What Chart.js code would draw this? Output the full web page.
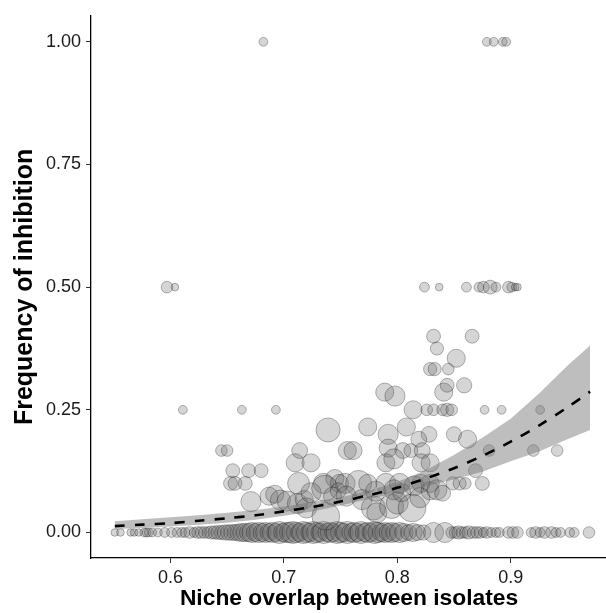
<!DOCTYPE html>
<html lang="en">
<head>
<meta charset="UTF-8">
<title>Niche overlap vs frequency of inhibition</title>
<script src="https://cdn.jsdelivr.net/npm/chart.js@4"></script>
<style>
  * { margin: 0; padding: 0; box-sizing: border-box; }
  body { background: #fff; width: 606px; height: 613px; overflow: hidden; }
  /* the panel runs off the right edge of the figure, as in the original */
  #wrap { position: relative; width: 622px; height: 613px; }
</style>
</head>
<body>
<div id="wrap"><canvas id="chart"></canvas></div>
<script>
// ── Axis ticks ────────────────────────────────────────────────────────────────
const xTicks = [0.6, 0.7, 0.8, 0.9];
const yTicks = [0, 0.25, 0.5, 0.75, 1];

// ── Pairs with no inhibition (freq = 0) ───────────────────────────────────────
const zeroOverlap = [
  0.551, 0.556, 0.565, 0.568, 0.572, 0.577, 0.579, 0.581, 0.584, 0.589, 0.595, 0.601, 0.606,
  0.610, 0.613, 0.617, 0.621, 0.624, 0.627, 0.630, 0.633, 0.636, 0.639, 0.642, 0.645, 0.648,
  0.651, 0.654, 0.657, 0.660, 0.663, 0.666, 0.669, 0.672, 0.675, 0.678, 0.681, 0.684, 0.687,
  0.690, 0.693, 0.696, 0.699, 0.702, 0.705, 0.708, 0.711, 0.714, 0.717, 0.720, 0.723, 0.726,
  0.729, 0.732, 0.735, 0.738, 0.741, 0.744, 0.747, 0.750, 0.753, 0.756, 0.759, 0.762, 0.765,
  0.768, 0.771, 0.774, 0.777, 0.780, 0.783, 0.786, 0.789, 0.792, 0.795, 0.798, 0.802, 0.806,
  0.810, 0.814, 0.818, 0.823, 0.832, 0.842, 0.848, 0.851, 0.854, 0.857, 0.860, 0.863, 0.867,
  0.870, 0.873, 0.876, 0.879, 0.883, 0.887, 0.890, 0.898, 0.902, 0.906, 0.918, 0.922, 0.926,
  0.930, 0.936, 0.940, 0.944, 0.952, 0.956, 0.969
];
const zeroN = [
  3, 3, 3, 3, 3, 4, 4, 4, 4, 4, 5, 5, 5,
  5, 5, 7, 5, 7, 7, 7, 7, 9, 9, 10, 10, 12,
  12, 13, 13, 15, 17, 17, 17, 21, 17, 21, 17, 21, 17,
  21, 17, 25, 17, 21, 21, 25, 21, 17, 25, 21, 17, 25,
  21, 17, 25, 17, 21, 17, 25, 21, 17, 25, 17, 21, 17,
  25, 17, 21, 17, 25, 21, 17, 21, 17, 21, 17, 21, 17,
  13, 17, 13, 12, 21, 21, 7, 7, 9, 7, 7, 9, 7,
  7, 7, 5, 7, 5, 5, 5, 7, 7, 7, 5, 7, 5,
  7, 7, 5, 5, 5, 5, 7
];

// ── Pairs with some inhibition ────────────────────────────────────────────────
const posOverlap = [
  0.682, 0.879, 0.885, 0.893, 0.896,
  0.597, 0.604, 0.824, 0.837, 0.861, 0.872, 0.876, 0.882, 0.887, 0.898, 0.901, 0.904, 0.906,
  0.832, 0.866, 0.835, 0.852, 0.829, 0.833, 0.845, 0.789, 0.798, 0.841, 0.844, 0.859,
  0.611, 0.663, 0.693, 0.814, 0.826, 0.832, 0.840, 0.844, 0.848, 0.877, 0.892, 0.926,
  0.739, 0.774, 0.792, 0.808, 0.828, 0.850, 0.862,
  0.645, 0.650, 0.714, 0.756, 0.761, 0.792, 0.805, 0.812, 0.819, 0.822, 0.881, 0.920, 0.941,
  0.710, 0.724, 0.790, 0.797, 0.821, 0.829,
  0.655, 0.669, 0.680, 0.869,
  0.653, 0.657, 0.666, 0.713, 0.735, 0.745, 0.749, 0.754, 0.766, 0.774, 0.790, 0.802, 0.815,
  0.821, 0.829, 0.849, 0.855, 0.860, 0.875,
  0.671, 0.687, 0.692, 0.697, 0.703, 0.712, 0.718, 0.720, 0.724, 0.737, 0.736, 0.743, 0.748,
  0.755, 0.769, 0.779, 0.781, 0.782, 0.795, 0.797, 0.800, 0.804, 0.813, 0.820, 0.829, 0.835, 0.840
];
const posFreq = [
  1, 1, 1, 1, 1,
  0.5, 0.5, 0.5, 0.5, 0.5, 0.5, 0.5, 0.5, 0.5, 0.5, 0.5, 0.5, 0.5,
  0.40, 0.40, 0.375, 0.355, 0.333, 0.333, 0.333, 0.286, 0.278, 0.286, 0.30, 0.30,
  0.25, 0.25, 0.25, 0.25, 0.25, 0.25, 0.25, 0.25, 0.25, 0.25, 0.25, 0.25,
  0.209, 0.215, 0.20, 0.215, 0.20, 0.20, 0.19,
  0.167, 0.167, 0.167, 0.167, 0.167, 0.172, 0.167, 0.167, 0.19, 0.167, 0.167, 0.167, 0.167,
  0.142, 0.142, 0.142, 0.15, 0.142, 0.142,
  0.126, 0.126, 0.126, 0.126,
  0.10, 0.10, 0.10, 0.10, 0.10, 0.11, 0.10, 0.10, 0.10, 0.10, 0.10, 0.10, 0.095,
  0.10, 0.10, 0.10, 0.10, 0.10, 0.10,
  0.063, 0.074, 0.078, 0.066, 0.064, 0.059, 0.067, 0.05, 0.081, 0.033, 0.09, 0.074, 0.085,
  0.074, 0.067, 0.05, 0.084, 0.04, 0.053, 0.087, 0.06, 0.081, 0.05, 0.071, 0.085, 0.087, 0.08
];
const posN = [
  4, 4, 4, 4, 4,
  7, 3, 5, 3, 5, 5, 7, 10, 5, 7, 5, 3, 3,
  10, 10, 9, 17, 9, 9, 7, 17, 21, 17, 10, 12,
  4, 4, 4, 17, 7, 7, 7, 9, 7, 4, 4, 4,
  30, 17, 21, 17, 13, 12, 17,
  7, 7, 13, 17, 17, 17, 13, 10, 13, 13, 7, 7, 7,
  17, 17, 17, 21, 17, 17,
  10, 10, 10, 10,
  10, 10, 10, 25, 21, 17, 17, 21, 35, 17, 21, 21, 21,
  17, 17, 9, 9, 7, 10,
  21, 17, 17, 21, 21, 21, 17, 21, 21, 40, 35, 17, 13,
  21, 21, 30, 21, 21, 30, 21, 25, 17, 40, 21, 17, 21, 13
];

// ── Logistic fit with confidence band ─────────────────────────────────────────
const fitX  = [0.551, 0.575, 0.6, 0.625, 0.65, 0.675, 0.7, 0.725, 0.75, 0.775, 0.8, 0.825, 0.85, 0.875, 0.9, 0.925, 0.95, 0.97];
const fitY  = [0.013, 0.016, 0.019, 0.024, 0.029, 0.035, 0.043, 0.052, 0.063, 0.076, 0.091, 0.110, 0.131, 0.156, 0.185, 0.218, 0.255, 0.287];
const fitLo = [0.007, 0.009, 0.012, 0.016, 0.020, 0.026, 0.034, 0.043, 0.055, 0.068, 0.081, 0.094, 0.108, 0.124, 0.145, 0.165, 0.190, 0.209];
const fitHi = [0.023, 0.027, 0.031, 0.035, 0.040, 0.046, 0.053, 0.062, 0.072, 0.085, 0.103, 0.127, 0.158, 0.193, 0.232, 0.283, 0.340, 0.381];

// ── Build chart data ──────────────────────────────────────────────────────────
const radiusOf = n => 2.2 * Math.sqrt(n);
const points = [
  ...zeroOverlap.map((x, i) => ({ x, y: 0, n: zeroN[i] })),
  ...posOverlap.map((x, i) => ({ x, y: posFreq[i], n: posN[i] }))
];
const pairs = ys => fitX.map((x, i) => ({ x, y: ys[i] }));

const font = "'Liberation Sans', Arial, Helvetica, sans-serif";

new Chart(document.getElementById('chart'), {
  type: 'scatter',
  data: {
    datasets: [
      { type: 'scatter', data: points, order: 3,
        pointRadius: ctx => radiusOf(ctx.raw.n),
        pointBackgroundColor: 'rgba(100,100,100,0.27)',
        pointBorderColor: 'rgba(0,0,0,0.28)', pointBorderWidth: 1 },
      { type: 'line', data: pairs(fitLo), order: 2, borderWidth: 0, pointRadius: 0, fill: false },
      { type: 'line', data: pairs(fitHi), order: 2, borderWidth: 0, pointRadius: 0,
        fill: '-1', backgroundColor: 'rgba(110,110,110,0.45)' },
      { type: 'line', data: pairs(fitY), order: 1, borderColor: '#000', borderWidth: 2.6,
        borderDash: [10, 10], pointRadius: 0, fill: false, tension: 0.3 }
    ]
  },
  options: {
    responsive: true,
    maintainAspectRatio: false,
    animation: false,
    layout: { padding: { top: 14, right: 0, left: 0, bottom: 0 } },
    plugins: { legend: { display: false }, tooltip: { enabled: false } },
    scales: {
      x: {
        type: 'linear', min: 0.530, max: 0.985,
        afterBuildTicks: s => { s.ticks = xTicks.map(v => ({ value: v })); },
        afterFit: s => { s.height = 55; },
        grid: { drawOnChartArea: false, drawTicks: true, tickLength: 5, color: '#333' },
        border: { display: true, color: '#000', width: 1.3 },
        ticks: { color: '#1a1a1a', padding: 4, font: { family: font, size: 18 }, callback: v => v.toFixed(1) },
        title: { display: true, text: 'Niche overlap between isolates', color: '#000',
          font: { family: font, size: 22.8, weight: 'bold' }, padding: { top: 0, bottom: 1 } }
      },
      y: {
        type: 'linear', min: -0.052, max: 1.053,
        afterBuildTicks: s => { s.ticks = yTicks.map(v => ({ value: v })); },
        afterFit: s => { s.width = 91; },
        grid: { drawOnChartArea: false, drawTicks: true, tickLength: 5, color: '#333' },
        border: { display: true, color: '#000', width: 1.3 },
        ticks: { color: '#1a1a1a', padding: 5, font: { family: font, size: 18 }, callback: v => v.toFixed(2) },
        title: { display: true, text: 'Frequency of inhibition', color: '#000',
          font: { family: font, size: 25, weight: 'bold' }, padding: { top: 10, bottom: 0 } }
      }
    }
  }
});
</script>
</body>
</html>
